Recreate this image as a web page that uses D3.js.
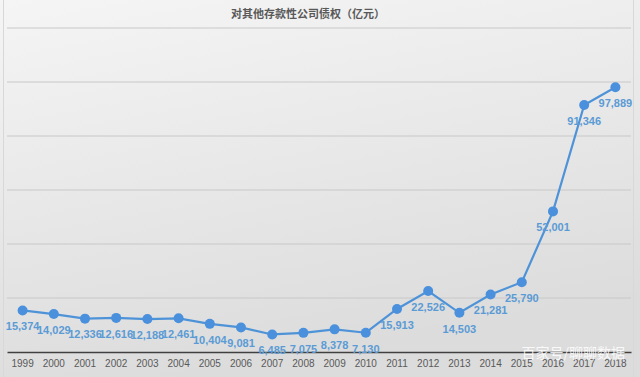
<!DOCTYPE html>
<html>
<head>
<meta charset="utf-8">
<script src="https://cdn.jsdelivr.net/npm/d3@7"></script>
<style>
  body { margin: 0; background: #ececec; }
  svg { display: block; }
</style>
</head>
<body>
<script>
// 数据
var years = ["1999", "2000", "2001", "2002", "2003", "2004", "2005", "2006", "2007", "2008",
             "2009", "2010", "2011", "2012", "2013", "2014", "2015", "2016", "2017", "2018"];
var values = [15374, 14029, 12336, 12616, 12188, 12461, 10404, 9081, 6485, 7075,
              8378, 7130, 15913, 22526, 14503, 21281, 25790, 52001, 91346, 97889];
var yTicks = [0, 20000, 40000, 60000, 80000, 100000, 120000];

var W = 640, H = 377;
var margin = { top: 27.5, right: 9, bottom: 25, left: 7 },
    width = W - margin.left - margin.right,
    height = H - margin.top - margin.bottom;

var svg = d3.select("body").append("svg")
    .attr("width", W)
    .attr("height", H);

// 背景渐变
var grad = svg.append("defs").append("linearGradient")
    .attr("id", "bg")
    .attr("x1", 0).attr("y1", 0).attr("x2", 0.3).attr("y2", 1);
grad.append("stop").attr("offset", "0%").attr("stop-color", "#f5f5f5");
grad.append("stop").attr("offset", "100%").attr("stop-color", "#dcdcdc");

svg.append("rect")
    .attr("width", W).attr("height", H)
    .attr("fill", "url(#bg)");

// 边框线
svg.append("line")
    .attr("x1", 3.5).attr("x2", 3.5).attr("y1", 0).attr("y2", H)
    .attr("stroke", "#d8d8d8");
svg.append("line")
    .attr("x1", 633.5).attr("x2", 633.5).attr("y1", 0).attr("y2", H)
    .attr("stroke", "#d8d8d8");

var g = svg.append("g")
    .attr("transform", "translate(" + margin.left + "," + margin.top + ")");

var x = d3.scaleBand()
    .domain(years)
    .range([0, width]);

var y = d3.scaleLinear()
    .domain([0, 120000])
    .range([height, 0]);

// 网格线
g.append("g")
    .selectAll("line")
    .data(yTicks.slice(1))
    .enter().append("line")
    .attr("x1", 0)
    .attr("x2", width)
    .attr("y1", function (d) { return Math.round(y(d)) + 0.5; })
    .attr("y2", function (d) { return Math.round(y(d)) + 0.5; })
    .attr("stroke", "#c8c8c8")
    .attr("stroke-width", 1);

// x轴
var xAxis = g.append("g")
    .attr("transform", "translate(0," + height + ")")
    .call(d3.axisBottom(x).tickSize(0).tickPadding(8));
xAxis.select(".domain")
    .attr("stroke", "#404040")
    .attr("stroke-width", 1.5);
xAxis.selectAll("text")
    .attr("font-family", "Liberation Sans, Arial, sans-serif")
    .attr("font-size", 10)
    .attr("fill", "#595959");

var line = d3.line()
    .x(function (d, i) { return x(years[i]) + x.bandwidth() / 2; })
    .y(function (d) { return y(d); });

g.append("path")
    .datum(values)
    .attr("fill", "none")
    .attr("stroke", "#4e93d8")
    .attr("stroke-width", 2.2)
    .attr("d", line);

g.append("g")
    .selectAll("circle")
    .data(values)
    .enter().append("circle")
    .attr("cx", function (d, i) { return x(years[i]) + x.bandwidth() / 2; })
    .attr("cy", function (d) { return y(d); })
    .attr("r", 5)
    .attr("fill", "#4a90dc");

// 数据标签
g.append("g")
    .selectAll("text")
    .data(values)
    .enter().append("text")
    .attr("x", function (d, i) { return x(years[i]) + x.bandwidth() / 2; })
    .attr("y", function (d) { return y(d) + 16; })
    .attr("dy", "0.35em")
    .attr("text-anchor", "middle")
    .attr("font-family", "Liberation Sans, Arial, sans-serif")
    .attr("font-size", 11)
    .attr("font-weight", "bold")
    .attr("fill", "#5b9bd5")
    .text(function (d) { return d3.format(",")(d); });

// 标题
svg.append("text")
    .attr("x", 308)
    .attr("y", 14)
    .attr("dy", "0.35em")
    .attr("text-anchor", "middle")
    .attr("font-family", "Noto Sans CJK SC, sans-serif")
    .attr("font-size", 11)
    .attr("font-weight", "bold")
    .attr("fill", "#595959")
    .text("对其他存款性公司债权（亿元）");

// 水印
svg.append("text")
    .attr("x", 625)
    .attr("y", 358)
    .attr("text-anchor", "end")
    .attr("font-family", "Noto Sans CJK SC, sans-serif")
    .attr("font-size", 14)
    .attr("fill", "#ffffff")
    .attr("fill-opacity", 0.85)
    .text("百家号/聊聊数据");
</script>
</body>
</html>
